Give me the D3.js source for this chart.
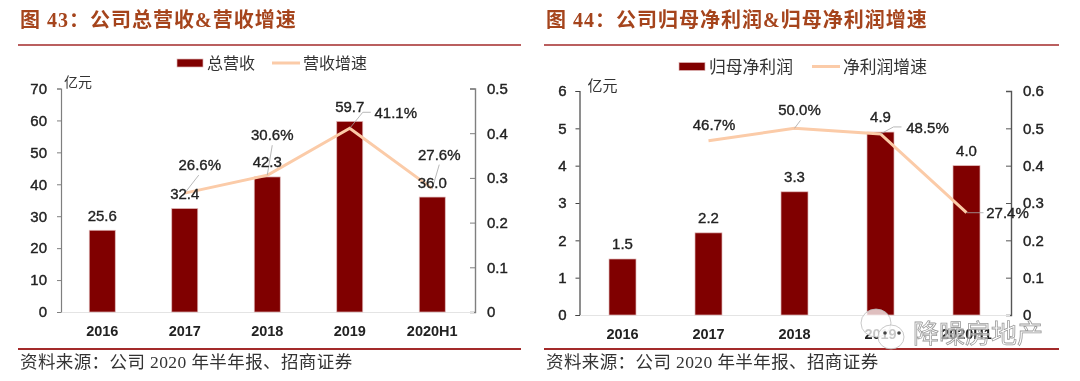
<!DOCTYPE html>
<html>
<head>
<meta charset="utf-8">
<script src="https://cdn.jsdelivr.net/npm/d3@7"></script>
<style>
  html, body { margin: 0; padding: 0; background: #fff; }
  svg { display: block; filter: blur(0.35px); }
  text { font-family: "Liberation Sans", "Noto Sans CJK SC", sans-serif; fill: #222; }
  .title { font-family: "Liberation Serif", "Noto Sans CJK SC", serif; font-size: 20px; font-weight: 700; fill: #a5441c; letter-spacing: 1px; }
  .source { font-family: "Liberation Serif", "Noto Sans CJK SC", serif; font-size: 17.5px; fill: #333; letter-spacing: 0.4px; }
  .legend { fill: #333; }
  .tick text { font-size: 15px; stroke: #222; stroke-width: 0.4px; }
  .x-axis .tick text { font-size: 14.5px; font-weight: 700; stroke: none; }
  .value { font-size: 15px; text-anchor: middle; stroke: #222; stroke-width: 0.35px; }
  .watermark { font-size: 26px; fill: #fff; fill-opacity: 0.5; stroke: #9a9a9a; stroke-width: 0.8px; }
</style>
</head>
<body>
<div id="graphic"></div>
<script>
// left panel data
var categoriesLeft = ["2016", "2017", "2018", "2019", "2020H1"];
var revenue = [25.6, 32.4, 42.3, 59.7, 36.0];
var revenueGrowth = [null, 0.266, 0.306, 0.411, 0.276];
var revenueTicks = [0, 10, 20, 30, 40, 50, 60, 70];
var revenueGrowthTicks = [0, 0.1, 0.2, 0.3, 0.4, 0.5];

// right panel data
var categoriesRight = ["2016", "2017", "2018", "2019", "2020H1"];
var profit = [1.5, 2.2, 3.3, 4.9, 4.0];
var profitGrowth = [null, 0.467, 0.5, 0.485, 0.274];
var profitTicks = [0, 1, 2, 3, 4, 5, 6];
var profitGrowthTicks = [0, 0.1, 0.2, 0.3, 0.4, 0.5, 0.6];

var svg = d3.select("#graphic").append("svg").attr("width", 1080).attr("height", 381);

function drawPanel(p) {
  var x = d3.scaleBand().domain(p.categories).range([p.left, p.right]);
  var y = d3.scaleLinear().domain([0, p.barMax]).range([p.bottom, p.top]);
  var y2 = d3.scaleLinear().domain([0, p.lineMax]).range([p.bottom, p.top]);
  var cx = (i) => x(p.categories[i]) + x.bandwidth() / 2;

  // title and rules
  svg.append("text").attr("class", "title").attr("x", p.ruleLeft + 2).attr("y", 27).text(p.title);
  svg.append("line").attr("x1", p.ruleLeft).attr("x2", p.ruleRight).attr("y1", 45).attr("y2", 45)
    .attr("stroke", "#a32a2a").attr("stroke-width", 1.5);
  svg.append("line").attr("x1", p.ruleLeft).attr("x2", p.ruleRight).attr("y1", 349).attr("y2", 349)
    .attr("stroke", "#a32a2a").attr("stroke-width", 2);
  svg.append("text").attr("class", "source").attr("x", p.ruleLeft + 2).attr("y", 368).text("资料来源\uFF1A公司 2020 年半年报、招商证券");

  // axes
  var left = svg.append("g").attr("transform", "translate(" + p.left + ",0)")
    .call(d3.axisLeft(y).tickValues(p.barTicks).tickSize(4).tickPadding(p.leftPad).tickFormat(d3.format("d")));
  left.select(".domain").attr("stroke", p.leftAxisColor).attr("stroke-width", 1.2);
  left.selectAll(".tick line").attr("stroke", p.leftAxisColor);

  var right = svg.append("g").attr("transform", "translate(" + p.rightAxis + ",0)")
    .call(d3.axisRight(y2).tickValues(p.lineTicks).tickSize(-5).tickPadding(12).tickFormat((d) => (d === 0 ? "0" : d3.format(".1f")(d))));
  right.select(".domain").attr("stroke", p.rightAxisColor).attr("stroke-width", 1.4);
  right.selectAll(".tick line").attr("stroke", p.rightAxisColor);

  var bottom = svg.append("g").attr("class", "x-axis").attr("transform", "translate(0," + p.bottom + ")")
    .call(d3.axisBottom(x).tickSize(0).tickPadding(14));
  bottom.select(".domain").attr("stroke", "#e4e4e4").attr("stroke-width", 1.2);

  // bars
  svg.selectAll(null).data(p.bars).enter().append("rect")
    .attr("x", (d, i) => cx(i) - p.barWidth / 2)
    .attr("y", (d) => y(d))
    .attr("width", p.barWidth)
    .attr("height", (d) => y(0) - y(d))
    .attr("fill", "#800000")
    .attr("stroke", "#e0b8b8")
    .attr("stroke-width", 0.7);

  // growth line
  var line = d3.line()
    .defined((d) => d !== null)
    .x((d, i) => cx(i))
    .y((d) => y2(d));
  svg.append("path").datum(p.line).attr("d", line)
    .attr("fill", "none").attr("stroke", "#fbcba8").attr("stroke-width", 3);

  // leader lines for growth labels
  p.line.forEach(function (d, i) {
    if (d === null || !p.leaders[i]) return;
    svg.append("path")
      .attr("d", d3.line()([[cx(i), y2(d)]].concat(p.leaders[i].map((o) => [cx(i) + o[0], y2(d) + o[1]]))))
      .attr("fill", "none").attr("stroke", "#a6a6a6").attr("stroke-width", 0.8);
  });

  // bar value labels
  svg.selectAll(null).data(p.bars).enter().append("text").attr("class", "value")
    .attr("x", (d, i) => cx(i))
    .attr("y", (d) => y(d) - p.barLabelGap)
    .text((d) => d.toFixed(1));

  // growth value labels
  p.line.forEach(function (d, i) {
    if (d === null) return;
    svg.append("text").attr("class", "value")
      .attr("x", cx(i) + p.lineLabelShift[i][0])
      .attr("y", y2(d) + p.lineLabelShift[i][1])
      .text(d3.format(".1%")(d));
  });

  // unit
  svg.append("text").attr("font-size", p.unitSize).style("fill", "#333")
    .attr("x", p.left + p.unitDx).attr("y", p.unitY).text("亿元");

  // legend
  svg.append("rect").attr("x", p.legendBarX).attr("y", p.legendY - 4).attr("width", 26).attr("height", 8).attr("fill", "#800000").attr("stroke", "#e0b8b8").attr("stroke-width", 0.7);
  svg.append("text").attr("class", "legend").attr("font-size", p.legendSize).attr("x", p.legendBarX + 30).attr("y", p.legendY + 6).text(p.barName);
  svg.append("line").attr("x1", p.legendLineX).attr("x2", p.legendLineX + 28).attr("y1", p.legendY).attr("y2", p.legendY).attr("stroke", "#fbcba8").attr("stroke-width", 3);
  svg.append("text").attr("class", "legend").attr("font-size", p.legendSize).attr("x", p.legendLineX + 31).attr("y", p.legendY + 6).text(p.lineName);
}

drawPanel({
  title: "图 43\uFF1A公司总营收&营收增速",
  categories: categoriesLeft, bars: revenue, line: revenueGrowth,
  barTicks: revenueTicks, lineTicks: revenueGrowthTicks, barMax: 70, lineMax: 0.5,
  left: 61, right: 473.5, rightAxis: 475, top: 88.5, bottom: 312, barWidth: 26,
  ruleLeft: 18, ruleRight: 521, leftAxisColor: "#7f7f7f", rightAxisColor: "#7f7f7f", leftPad: 10,
  barName: "总营收", lineName: "营收增速", legendSize: 16,
  legendBarX: 177, legendLineX: 272, legendY: 63, unitDx: 3, unitY: 87, unitSize: 14,
  barLabelGap: 9.5,
  lineLabelShift: [null, [15, -23], [5, -35], [46, -10], [7, -29]],
  leaders: [null, [[14, -18]], [[5, -30]], [[13, -16], [21, -16]], [[7, -24]]]
});

drawPanel({
  title: "图 44\uFF1A公司归母净利润&归母净利润增速",
  categories: categoriesRight, bars: profit, line: profitGrowth,
  barTicks: profitTicks, lineTicks: profitGrowthTicks, barMax: 6, lineMax: 0.6,
  left: 579.5, right: 1009.5, rightAxis: 1011, top: 91, bottom: 315, barWidth: 27,
  ruleLeft: 544, ruleRight: 1059, leftAxisColor: "#444", rightAxisColor: "#555", leftPad: 9,
  barName: "归母净利润", lineName: "净利润增速", legendSize: 16.8,
  legendBarX: 679, legendLineX: 812, legendY: 66.5, unitDx: 8, unitY: 90.5, unitSize: 15,
  barLabelGap: 10,
  lineLabelShift: [null, [5.5, -11], [5, -13.5], [47, -1], [41, 5]],
  leaders: [null, null, [[6, -8]], [[13, -7], [21, -7]], [[17, 0]]]
});

// watermark
var mark = svg.append("g");
[[876, 323, 15, 14], [891, 337, 13, 12]].forEach(function (c) {
  mark.append("ellipse").attr("cx", c[0]).attr("cy", c[1]).attr("rx", c[2]).attr("ry", c[3])
    .attr("fill", "#fff").attr("fill-opacity", 0.75).attr("stroke", "#bbb").attr("stroke-width", 0.8);
});
[[885, 333], [899, 333]].forEach(function (c) {
  mark.append("circle").attr("cx", c[0]).attr("cy", c[1]).attr("r", 1.8).attr("fill", "#444");
});
mark.append("text").attr("class", "watermark").attr("x", 913).attr("y", 343).text("降噪房地产");
</script>
</body>
</html>
